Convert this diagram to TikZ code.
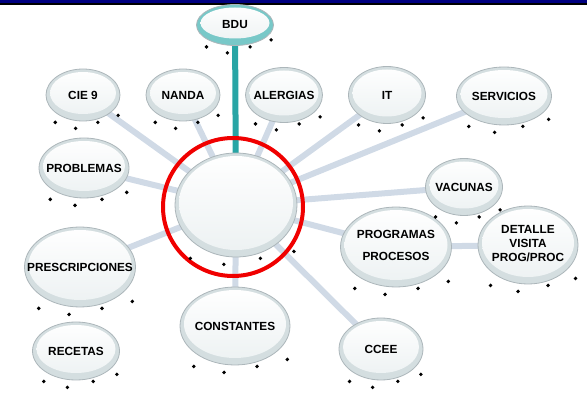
\documentclass[tikz,border=0pt]{standalone}
\usepackage{fontspec}
\setmainfont{Liberation Sans}
\usetikzlibrary{shapes.geometric,calc,backgrounds}
\definecolor{navybar}{RGB}{0,0,128}
\definecolor{conn}{RGB}{208,218,230}
\definecolor{tealc}{RGB}{40,165,165}
\definecolor{rimc}{RGB}{212,222,224}
\definecolor{edgec}{RGB}{172,182,186}
\definecolor{innerb}{RGB}{236,241,242}
\definecolor{bdurim}{RGB}{120,200,200}
\definecolor{ringred}{RGB}{240,0,0}
\newcommand\shdots[2]{%
  \foreach \f/\d in {-0.75/1,-0.2/7,0.4/1,0.95/-6}{%
    \fill[black] ($(#1.south)+(\f*#2,\d)$) circle (1.9pt);}}
\newcommand\lbl[1]{\makebox[0pt][c]{#1}}
\tikzset{
  bub/.style={ellipse, inner sep=0pt, draw=edgec, line width=0.8pt, fill=rimc,
    text=black, font=\fontsize{11.8}{13}\selectfont\bfseries,
    path picture={\shade[top color=white, bottom color=innerb]
      let \p1=(path picture bounding box.north east),
          \p2=(path picture bounding box.south west) in
      ([yshift=2pt]path picture bounding box.center)
      ellipse [x radius={(\x1-\x2)/2-4pt}, y radius={(\y1-\y2)/2-5pt}];}},
  bdubub/.style={bub, fill=bdurim},
  conline/.style={draw=conn, line width=6pt},
  tealline/.style={draw=tealc, line width=6pt},
  redring/.style={ellipse, draw=ringred, line width=4pt, inner sep=0pt}
}
\begin{document}
\begin{tikzpicture}[x=1pt,y=-1pt]
\useasboundingbox (0,0) rectangle (587,398);
\fill[navybar] (0,0) rectangle (587,3.2);
\fill[black] (0,3.2) rectangle (587,4.6);

\node[bdubub, minimum width=77, minimum height=41] (bdu) at (235,25) {\lbl{BDU}};
\node[bub, minimum width=74, minimum height=52] (cie) at (83,95) {\lbl{CIE 9}};
\node[bub, minimum width=74, minimum height=52] (nanda) at (183,95) {\lbl{NANDA}};
\node[bub, minimum width=77, minimum height=55] (alerg) at (284,95) {\lbl{ALERGIAS}};
\node[bub, minimum width=77, minimum height=57] (it) at (387,95) {\lbl{IT}};
\node[bub, minimum width=95, minimum height=58] (serv) at (504,96) {\lbl{SERVICIOS}};
\node[bub, minimum width=90, minimum height=60] (probl) at (84,168) {\lbl{PROBLEMAS}};
\node[bub, minimum width=77, minimum height=57] (vac) at (464,187) {\lbl{VACUNAS}};
\node[bub, minimum width=111, minimum height=80] (presc) at (80,267) {\lbl{PRESCRIPCIONES}};
\node[bub, minimum width=87, minimum height=58] (rec) at (76,351) {\lbl{RECETAS}};
\node[bub, minimum width=110, minimum height=78] (const) at (235,326) {\lbl{CONSTANTES}};
\node[bub, minimum width=84, minimum height=62] (ccee) at (381,349) {\lbl{CCEE}};
\node[bub, minimum width=111, minimum height=80] (prog) at (396,247)
  {\lbl{\begin{tabular}{@{}c@{}}PROGRAMAS\\[9pt]PROCESOS\end{tabular}}};
\node[bub, minimum width=100, minimum height=78] (det) at (528,245)
  {\lbl{\begin{tabular}{@{}c@{}}DETALLE\\[1pt]VISITA\\[1pt]PROG/PROC\end{tabular}}};
\node[bub, minimum width=122, minimum height=104] (core) at (236,205) {};
\node[redring, minimum width=140, minimum height=138] (ring) at (233,207) {};

\begin{pgfonlayer}{background}
\draw[conline] (core.center) -- (cie.center);
\draw[conline] (core.center) -- (nanda.center);
\draw[conline] (core.center) -- (alerg.center);
\draw[conline] (core.center) -- (it.center);
\draw[conline] (core.center) -- (serv.center);
\draw[conline] (core.center) -- (probl.center);
\draw[conline] (core.center) -- (vac.center);
\draw[conline] (core.center) -- (presc.center);
\draw[conline] (core.center) -- (const.center);
\draw[conline] (core.center) -- (ccee.center);
\draw[conline] (core.center) -- (prog.center);
\draw[conline] (prog.center) -- (det.center);
\draw[tealline] (bdu.center) -- (core.center);
\end{pgfonlayer}

\shdots{bdu}{38}
\shdots{cie}{37}
\shdots{nanda}{37}
\shdots{alerg}{38}
\shdots{it}{38}
\shdots{serv}{47}
\shdots{probl}{45}
\shdots{vac}{38}
\shdots{presc}{55}
\shdots{rec}{43}
\shdots{const}{55}
\shdots{ccee}{42}
\shdots{prog}{55}
\shdots{det}{50}
\shdots{core}{61}
\end{tikzpicture}
\end{document}
